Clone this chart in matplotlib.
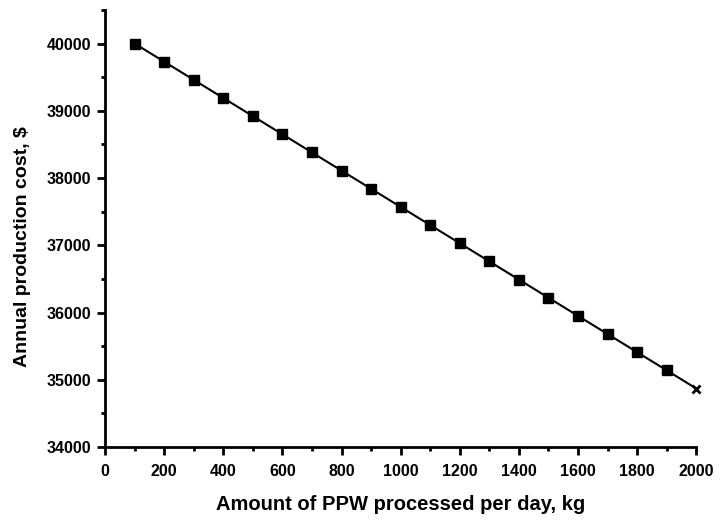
import matplotlib
matplotlib.use("Agg")
import matplotlib.pyplot as plt
from matplotlib.ticker import MultipleLocator

plt.rcParams['font.family'] = ['Liberation Sans', 'DejaVu Sans']
plt.rcParams['font.weight'] = 'bold'

# amount of PPW processed per day (kg) vs annual production cost ($)
ppw_kg = [100, 200, 300, 400, 500, 600, 700, 800, 900, 1000,
          1100, 1200, 1300, 1400, 1500, 1600, 1700, 1800, 1900, 2000]
cost = [40000, 39730, 39460, 39190, 38920, 38650, 38380, 38110, 37840, 37570,
        37300, 37030, 36760, 36490, 36220, 35950, 35680, 35410, 35140, 34870]

fig = plt.figure(figsize=(7.2, 5.23), dpi=100)
ax = fig.add_axes([0.146, 0.1453, 0.821, 0.8357])

ax.plot(ppw_kg, cost, color='black', lw=1.5, zorder=2, clip_on=False)
ax.plot(ppw_kg[:-1], cost[:-1], ls='none', marker='s', ms=7, color='black', zorder=3, clip_on=False)
ax.plot(ppw_kg[-1:], cost[-1:], ls='none', marker='x', ms=6, mew=2, color='black', zorder=3, clip_on=False)

ax.set_xlim(0, 2000)
ax.set_ylim(34000, 40500)
ax.xaxis.set_major_locator(MultipleLocator(200))
ax.xaxis.set_minor_locator(MultipleLocator(100))
ax.yaxis.set_major_locator(MultipleLocator(1000))
ax.yaxis.set_minor_locator(MultipleLocator(500))

for s in ['top', 'right']:
    ax.spines[s].set_visible(False)
for s in ['left', 'bottom']:
    ax.spines[s].set_linewidth(2)

ax.tick_params(which='major', direction='out', length=6, width=2, labelsize=11.5, pad=4)
ax.tick_params(which='minor', direction='out', length=3, width=2)
ax.tick_params(axis='x', which='major', pad=6)

ax.set_xlabel('Amount of PPW processed per day, kg', fontsize=14.5, fontweight='bold', labelpad=12)
ax.set_ylabel('Annual production cost, $', fontsize=14, fontweight='bold')
ax.yaxis.set_label_coords(-0.125, 0.458)

fig.savefig('out.png', dpi=100)
